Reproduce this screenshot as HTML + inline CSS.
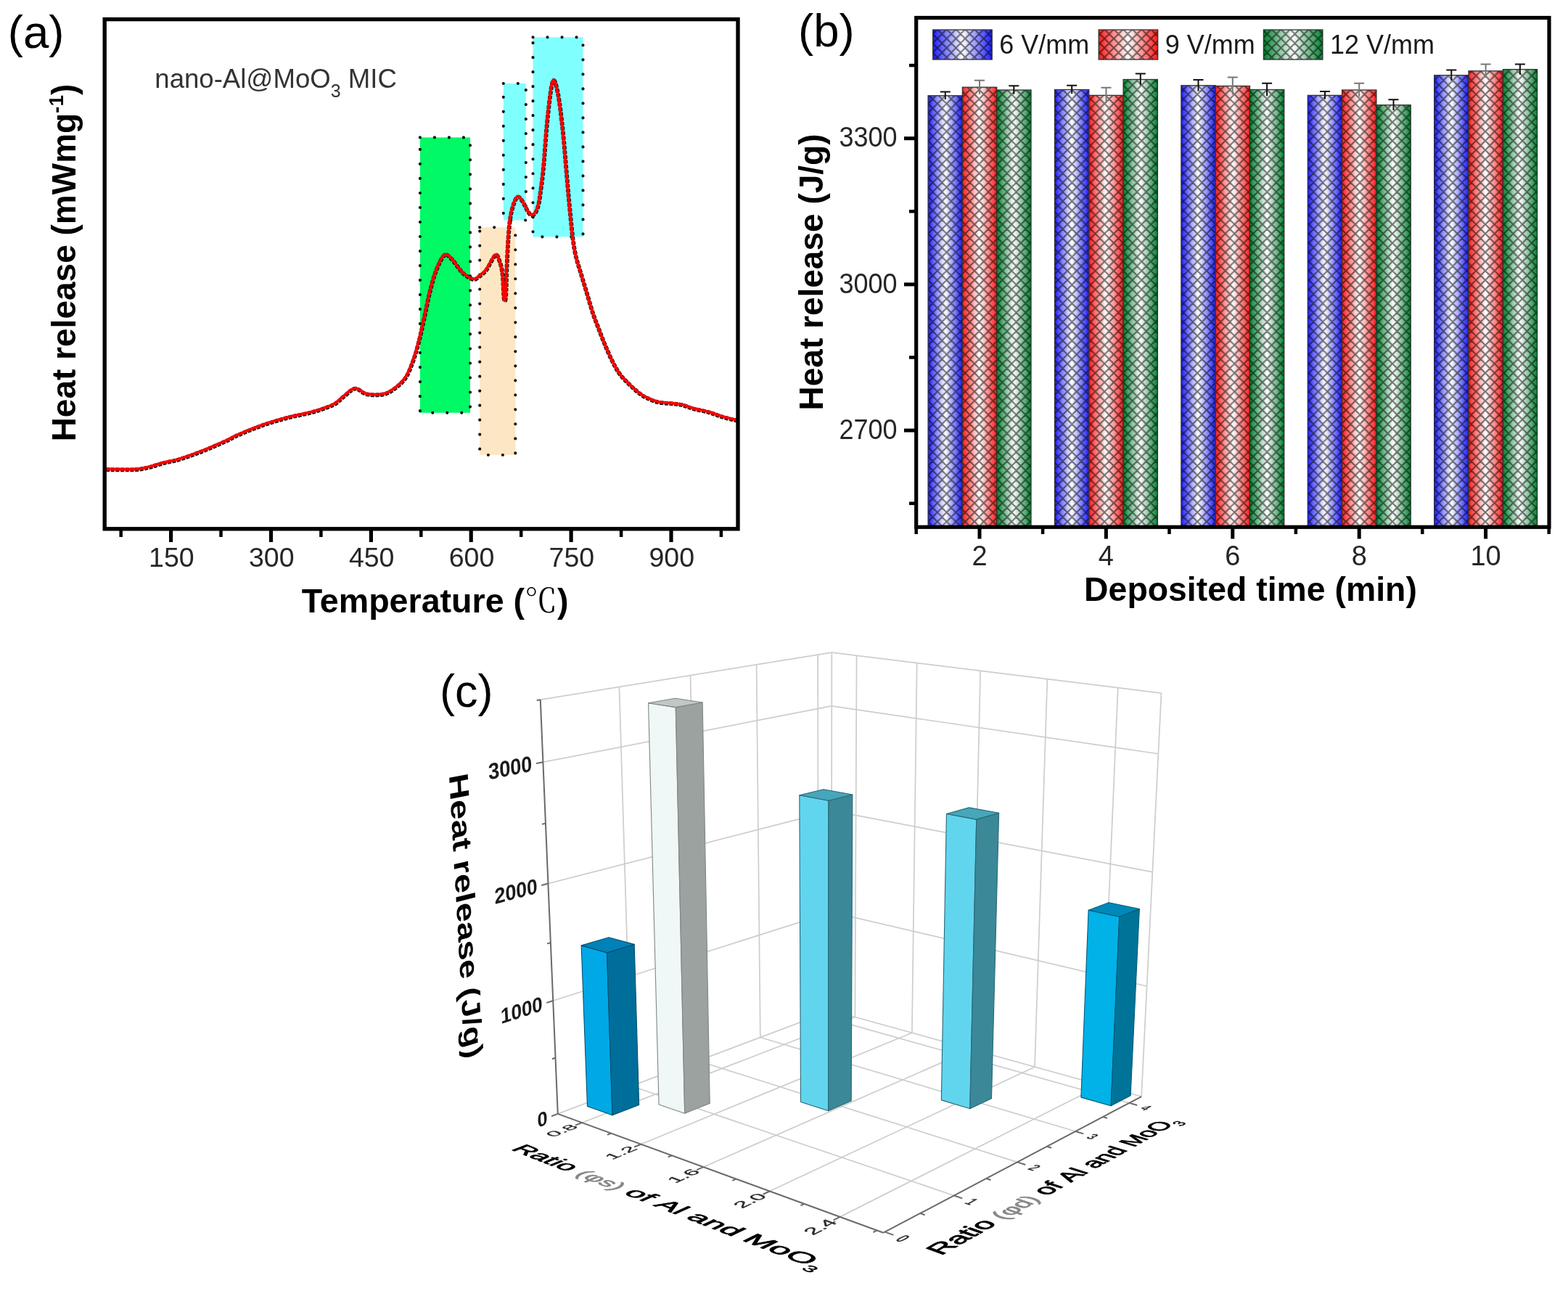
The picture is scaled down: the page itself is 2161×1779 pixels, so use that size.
<!DOCTYPE html>
<html><head><meta charset="utf-8"><title>Figure</title>
<style>html,body{margin:0;padding:0;background:#fff;}svg{display:block;}
text{font-family:"Liberation Sans", Arial, sans-serif;}</style></head>
<body><svg width="2161" height="1779" viewBox="0 0 2161 1779">
<rect width="2161" height="1779" fill="#fff"/>
<rect x="578.9" y="189.4" width="69.1" height="379.4" fill="#00F964"/>
<rect x="578.9" y="189.4" width="69.1" height="379.4" fill="none" stroke="#111" stroke-width="4.2" stroke-dasharray="0.01 20" stroke-linecap="round"/>
<rect x="661.2" y="313.3" width="49.1" height="313.7" fill="#FDE6C3"/>
<rect x="661.2" y="313.3" width="49.1" height="313.7" fill="none" stroke="#111" stroke-width="4.2" stroke-dasharray="0.01 20" stroke-linecap="round"/>
<rect x="693.8" y="115.0" width="31.0" height="188.5" fill="#80FFFF"/>
<rect x="693.8" y="115.0" width="31.0" height="188.5" fill="none" stroke="#111" stroke-width="4.2" stroke-dasharray="0.01 20" stroke-linecap="round"/>
<rect x="734.5" y="51.3" width="69.0" height="275.1" fill="#80FFFF"/>
<rect x="734.5" y="51.3" width="69.0" height="275.1" fill="none" stroke="#111" stroke-width="4.2" stroke-dasharray="0.01 20" stroke-linecap="round"/>
<path d="M146.0,646.5 C152.7,646.5 176.2,647.0 186.0,646.5 C195.8,646.0 198.4,644.9 205.0,643.4 C211.6,641.9 218.6,639.2 225.4,637.4 C232.2,635.6 237.3,635.4 245.8,632.8 C254.3,630.2 265.8,626.2 276.6,622.0 C287.4,617.8 302.2,611.3 310.7,607.5 C319.2,603.7 319.3,602.7 327.8,599.0 C336.3,595.3 350.5,589.4 361.9,585.4 C373.3,581.4 384.6,578.1 396.0,575.1 C407.4,572.1 419.7,570.4 430.2,567.4 C440.7,564.4 452.1,560.7 459.2,557.2 C466.3,553.7 467.8,550.2 472.8,546.5 C477.8,542.8 483.5,535.6 489.0,535.0 C494.5,534.4 499.0,541.4 505.6,542.7 C512.2,544.0 522.1,544.0 528.4,542.7 C534.7,541.4 538.5,538.8 543.6,535.0 C548.7,531.2 554.6,526.2 558.8,519.9 C563.0,513.6 566.0,505.0 569.0,497.0 C572.0,489.0 574.1,481.4 576.6,471.7 C579.1,462.0 581.7,450.2 584.2,438.8 C586.7,427.4 589.1,414.3 591.8,403.3 C594.5,392.3 597.2,381.6 600.6,372.9 C604.0,364.2 608.4,354.1 612.0,351.3 C615.6,348.6 618.0,352.4 622.2,356.4 C626.4,360.4 632.4,370.7 637.4,375.4 C642.4,380.1 648.2,383.5 652.0,384.4 C655.8,385.2 657.0,382.6 660.0,380.5 C663.0,378.4 666.0,376.6 669.8,371.7 C673.5,366.8 679.4,353.1 682.5,351.1 C685.6,349.1 686.8,355.5 688.4,359.9 C690.0,364.3 691.3,369.1 692.3,377.5 C693.3,385.9 693.6,405.3 694.3,410.5 C695.0,415.7 696.1,415.9 696.7,408.8 C697.4,401.7 697.6,381.1 698.2,367.7 C698.8,354.3 699.4,340.0 700.2,328.6 C701.0,317.2 701.8,307.4 703.1,299.2 C704.4,291.0 706.3,284.3 708.0,279.6 C709.7,274.9 711.4,271.3 713.4,270.8 C715.4,270.3 717.3,273.3 719.7,276.7 C722.1,280.1 725.4,288.1 727.6,291.3 C729.8,294.6 731.2,296.2 733.0,296.2 C734.8,296.2 736.9,294.1 738.4,291.3 C739.9,288.5 741.2,284.8 742.3,279.6 C743.4,274.4 744.1,268.1 745.2,260.0 C746.3,251.9 747.1,247.5 748.7,230.8 C750.3,214.1 752.4,179.8 754.6,159.9 C756.8,140.0 759.3,116.6 761.7,111.5 C764.1,106.4 766.4,117.2 768.8,129.2 C771.1,141.2 773.2,158.8 775.8,183.6 C778.3,208.4 781.5,251.6 784.1,278.0 C786.7,304.4 788.3,324.8 791.2,341.8 C794.1,358.8 798.5,369.4 801.5,380.0 C804.5,390.6 806.6,396.9 809.1,405.3 C811.6,413.8 814.2,423.1 816.7,430.7 C819.2,438.3 821.5,443.8 824.3,451.0 C827.0,458.2 830.0,466.2 833.2,473.8 C836.4,481.4 840.0,489.9 843.4,496.6 C846.8,503.4 849.7,509.0 853.5,514.3 C857.3,519.6 862.0,524.1 866.2,528.3 C870.4,532.5 874.8,536.5 878.8,539.7 C882.8,542.9 885.6,545.0 890.2,547.3 C894.9,549.6 901.0,552.2 906.7,553.6 C912.4,555.0 919.0,554.9 924.5,555.5 C930.0,556.1 934.6,556.2 939.7,557.4 C944.8,558.6 948.8,560.8 954.9,562.5 C961.0,564.2 969.6,565.6 976.4,567.5 C983.1,569.4 989.0,572.0 995.4,573.9 C1001.8,575.8 1011.7,578.1 1015.0,579.0" transform="translate(0.3,0.7)" fill="none" stroke="#1a1a1a" stroke-width="5.8" stroke-linejoin="round" stroke-dasharray="5 1.6"/>
<path d="M146.0,646.5 C152.7,646.5 176.2,647.0 186.0,646.5 C195.8,646.0 198.4,644.9 205.0,643.4 C211.6,641.9 218.6,639.2 225.4,637.4 C232.2,635.6 237.3,635.4 245.8,632.8 C254.3,630.2 265.8,626.2 276.6,622.0 C287.4,617.8 302.2,611.3 310.7,607.5 C319.2,603.7 319.3,602.7 327.8,599.0 C336.3,595.3 350.5,589.4 361.9,585.4 C373.3,581.4 384.6,578.1 396.0,575.1 C407.4,572.1 419.7,570.4 430.2,567.4 C440.7,564.4 452.1,560.7 459.2,557.2 C466.3,553.7 467.8,550.2 472.8,546.5 C477.8,542.8 483.5,535.6 489.0,535.0 C494.5,534.4 499.0,541.4 505.6,542.7 C512.2,544.0 522.1,544.0 528.4,542.7 C534.7,541.4 538.5,538.8 543.6,535.0 C548.7,531.2 554.6,526.2 558.8,519.9 C563.0,513.6 566.0,505.0 569.0,497.0 C572.0,489.0 574.1,481.4 576.6,471.7 C579.1,462.0 581.7,450.2 584.2,438.8 C586.7,427.4 589.1,414.3 591.8,403.3 C594.5,392.3 597.2,381.6 600.6,372.9 C604.0,364.2 608.4,354.1 612.0,351.3 C615.6,348.6 618.0,352.4 622.2,356.4 C626.4,360.4 632.4,370.7 637.4,375.4 C642.4,380.1 648.2,383.5 652.0,384.4 C655.8,385.2 657.0,382.6 660.0,380.5 C663.0,378.4 666.0,376.6 669.8,371.7 C673.5,366.8 679.4,353.1 682.5,351.1 C685.6,349.1 686.8,355.5 688.4,359.9 C690.0,364.3 691.3,369.1 692.3,377.5 C693.3,385.9 693.6,405.3 694.3,410.5 C695.0,415.7 696.1,415.9 696.7,408.8 C697.4,401.7 697.6,381.1 698.2,367.7 C698.8,354.3 699.4,340.0 700.2,328.6 C701.0,317.2 701.8,307.4 703.1,299.2 C704.4,291.0 706.3,284.3 708.0,279.6 C709.7,274.9 711.4,271.3 713.4,270.8 C715.4,270.3 717.3,273.3 719.7,276.7 C722.1,280.1 725.4,288.1 727.6,291.3 C729.8,294.6 731.2,296.2 733.0,296.2 C734.8,296.2 736.9,294.1 738.4,291.3 C739.9,288.5 741.2,284.8 742.3,279.6 C743.4,274.4 744.1,268.1 745.2,260.0 C746.3,251.9 747.1,247.5 748.7,230.8 C750.3,214.1 752.4,179.8 754.6,159.9 C756.8,140.0 759.3,116.6 761.7,111.5 C764.1,106.4 766.4,117.2 768.8,129.2 C771.1,141.2 773.2,158.8 775.8,183.6 C778.3,208.4 781.5,251.6 784.1,278.0 C786.7,304.4 788.3,324.8 791.2,341.8 C794.1,358.8 798.5,369.4 801.5,380.0 C804.5,390.6 806.6,396.9 809.1,405.3 C811.6,413.8 814.2,423.1 816.7,430.7 C819.2,438.3 821.5,443.8 824.3,451.0 C827.0,458.2 830.0,466.2 833.2,473.8 C836.4,481.4 840.0,489.9 843.4,496.6 C846.8,503.4 849.7,509.0 853.5,514.3 C857.3,519.6 862.0,524.1 866.2,528.3 C870.4,532.5 874.8,536.5 878.8,539.7 C882.8,542.9 885.6,545.0 890.2,547.3 C894.9,549.6 901.0,552.2 906.7,553.6 C912.4,555.0 919.0,554.9 924.5,555.5 C930.0,556.1 934.6,556.2 939.7,557.4 C944.8,558.6 948.8,560.8 954.9,562.5 C961.0,564.2 969.6,565.6 976.4,567.5 C983.1,569.4 989.0,572.0 995.4,573.9 C1001.8,575.8 1011.7,578.1 1015.0,579.0" fill="none" stroke="#FF0000" stroke-width="4.0" stroke-linejoin="round"/>
<rect x="144.2" y="26.6" width="872.8" height="702.2" fill="none" stroke="#000" stroke-width="5.4"/>
<line x1="235.6" y1="730" x2="235.6" y2="747" stroke="#000" stroke-width="5.2"/>
<text x="236.4" y="781" font-size="37.5" text-anchor="middle" fill="#262626">150</text>
<line x1="373.5" y1="730" x2="373.5" y2="747" stroke="#000" stroke-width="5.2"/>
<text x="374.3" y="781" font-size="37.5" text-anchor="middle" fill="#262626">300</text>
<line x1="511.4" y1="730" x2="511.4" y2="747" stroke="#000" stroke-width="5.2"/>
<text x="512.2" y="781" font-size="37.5" text-anchor="middle" fill="#262626">450</text>
<line x1="649.2" y1="730" x2="649.2" y2="747" stroke="#000" stroke-width="5.2"/>
<text x="650.0" y="781" font-size="37.5" text-anchor="middle" fill="#262626">600</text>
<line x1="787.1" y1="730" x2="787.1" y2="747" stroke="#000" stroke-width="5.2"/>
<text x="787.9" y="781" font-size="37.5" text-anchor="middle" fill="#262626">750</text>
<line x1="925.0" y1="730" x2="925.0" y2="747" stroke="#000" stroke-width="5.2"/>
<text x="925.8" y="781" font-size="37.5" text-anchor="middle" fill="#262626">900</text>
<line x1="166.7" y1="730" x2="166.7" y2="740" stroke="#000" stroke-width="4.5"/>
<line x1="304.5" y1="730" x2="304.5" y2="740" stroke="#000" stroke-width="4.5"/>
<line x1="442.4" y1="730" x2="442.4" y2="740" stroke="#000" stroke-width="4.5"/>
<line x1="580.3" y1="730" x2="580.3" y2="740" stroke="#000" stroke-width="4.5"/>
<line x1="718.2" y1="730" x2="718.2" y2="740" stroke="#000" stroke-width="4.5"/>
<line x1="856.1" y1="730" x2="856.1" y2="740" stroke="#000" stroke-width="4.5"/>
<line x1="993.9" y1="730" x2="993.9" y2="740" stroke="#000" stroke-width="4.5"/>
<text x="10.8" y="65.8" font-size="63.5" fill="#000">(a)</text>
<text x="213.3" y="121" font-size="36.6" fill="#333">nano-Al@MoO<tspan font-size="25" dy="13">3</tspan><tspan dy="-13" font-size="36.6"> MIC</tspan></text>
<text x="415.8" y="843.5" font-size="46.6" font-weight="bold" fill="#000">Temperature (<tspan font-family="'Liberation Serif', 'Noto Serif CJK SC', serif" font-weight="normal" font-size="45">℃</tspan>)</text>
<text transform="translate(104,362) rotate(-90)" font-size="46" font-weight="bold" text-anchor="middle" fill="#000">Heat release (mWmg<tspan font-size="28" dy="-17">-1</tspan><tspan dy="17">)</tspan></text>
<defs>
<linearGradient id="gB" x1="0" x2="1" y1="0" y2="0"><stop offset="0" stop-color="#1a1aff"/><stop offset="0.5" stop-color="#ffffff"/><stop offset="1" stop-color="#1a1aff"/></linearGradient>
<linearGradient id="gR" x1="0" x2="1" y1="0" y2="0"><stop offset="0" stop-color="#ff1a1a"/><stop offset="0.5" stop-color="#ffffff"/><stop offset="1" stop-color="#ff1a1a"/></linearGradient>
<linearGradient id="gG" x1="0" x2="1" y1="0" y2="0"><stop offset="0" stop-color="#00802e"/><stop offset="0.5" stop-color="#ffffff"/><stop offset="1" stop-color="#00802e"/></linearGradient>
<pattern id="hatch" patternUnits="userSpaceOnUse" width="12.8" height="12.8" x="1279" y="2">
<path d="M-3,3 l6,-6 M0,12.8 l12.8,-12.8 M9.8,15.8 l6,-6 M-3,9.8 l6,6 M0,0 l12.8,12.8 M9.8,-3 l6,6" stroke="#000" stroke-width="2.2" stroke-opacity="0.52"/>
</pattern>
</defs>
<rect x="1279.1" y="131.8" width="47.3" height="592.7" fill="url(#gB)"/>
<rect x="1279.1" y="131.8" width="47.3" height="592.7" fill="url(#hatch)" stroke="#333" stroke-width="1.3"/>
<rect x="1326.4" y="120.2" width="47.3" height="604.3" fill="url(#gR)"/>
<rect x="1326.4" y="120.2" width="47.3" height="604.3" fill="url(#hatch)" stroke="#333" stroke-width="1.3"/>
<rect x="1373.7" y="124.0" width="47.3" height="600.5" fill="url(#gG)"/>
<rect x="1373.7" y="124.0" width="47.3" height="600.5" fill="url(#hatch)" stroke="#333" stroke-width="1.3"/>
<rect x="1453.5" y="123.5" width="47.3" height="601.0" fill="url(#gB)"/>
<rect x="1453.5" y="123.5" width="47.3" height="601.0" fill="url(#hatch)" stroke="#333" stroke-width="1.3"/>
<rect x="1500.8" y="131.4" width="47.3" height="593.1" fill="url(#gR)"/>
<rect x="1500.8" y="131.4" width="47.3" height="593.1" fill="url(#hatch)" stroke="#333" stroke-width="1.3"/>
<rect x="1548.1" y="109.5" width="47.3" height="615.0" fill="url(#gG)"/>
<rect x="1548.1" y="109.5" width="47.3" height="615.0" fill="url(#hatch)" stroke="#333" stroke-width="1.3"/>
<rect x="1627.9" y="117.8" width="47.3" height="606.7" fill="url(#gB)"/>
<rect x="1627.9" y="117.8" width="47.3" height="606.7" fill="url(#hatch)" stroke="#333" stroke-width="1.3"/>
<rect x="1675.2" y="118.5" width="47.3" height="606.0" fill="url(#gR)"/>
<rect x="1675.2" y="118.5" width="47.3" height="606.0" fill="url(#hatch)" stroke="#333" stroke-width="1.3"/>
<rect x="1722.5" y="123.5" width="47.3" height="601.0" fill="url(#gG)"/>
<rect x="1722.5" y="123.5" width="47.3" height="601.0" fill="url(#hatch)" stroke="#333" stroke-width="1.3"/>
<rect x="1802.3" y="131.4" width="47.3" height="593.1" fill="url(#gB)"/>
<rect x="1802.3" y="131.4" width="47.3" height="593.1" fill="url(#hatch)" stroke="#333" stroke-width="1.3"/>
<rect x="1849.6" y="124.0" width="47.3" height="600.5" fill="url(#gR)"/>
<rect x="1849.6" y="124.0" width="47.3" height="600.5" fill="url(#hatch)" stroke="#333" stroke-width="1.3"/>
<rect x="1896.9" y="144.7" width="47.3" height="579.8" fill="url(#gG)"/>
<rect x="1896.9" y="144.7" width="47.3" height="579.8" fill="url(#hatch)" stroke="#333" stroke-width="1.3"/>
<rect x="1976.7" y="103.7" width="47.3" height="620.8" fill="url(#gB)"/>
<rect x="1976.7" y="103.7" width="47.3" height="620.8" fill="url(#hatch)" stroke="#333" stroke-width="1.3"/>
<rect x="2024.0" y="97.8" width="47.3" height="626.7" fill="url(#gR)"/>
<rect x="2024.0" y="97.8" width="47.3" height="626.7" fill="url(#hatch)" stroke="#333" stroke-width="1.3"/>
<rect x="2071.3" y="95.6" width="47.3" height="628.9" fill="url(#gG)"/>
<rect x="2071.3" y="95.6" width="47.3" height="628.9" fill="url(#hatch)" stroke="#333" stroke-width="1.3"/>
<path d="M1295.8,126.5 h14 M1302.8,126.5 V137.1" stroke="#111" stroke-width="2" fill="none"/>
<path d="M1343.0,110.7 h14 M1350.0,110.7 V129.7" stroke="#777" stroke-width="2" fill="none"/>
<path d="M1390.3,118.2 h14 M1397.3,118.2 V129.8" stroke="#111" stroke-width="2" fill="none"/>
<path d="M1470.2,117.8 h14 M1477.2,117.8 V129.2" stroke="#111" stroke-width="2" fill="none"/>
<path d="M1517.5,120.7 h14 M1524.5,120.7 V142.1" stroke="#777" stroke-width="2" fill="none"/>
<path d="M1564.8,101.6 h14 M1571.8,101.6 V117.4" stroke="#111" stroke-width="2" fill="none"/>
<path d="M1644.5,109.9 h14 M1651.5,109.9 V125.7" stroke="#111" stroke-width="2" fill="none"/>
<path d="M1691.8,106.6 h14 M1698.8,106.6 V130.4" stroke="#777" stroke-width="2" fill="none"/>
<path d="M1739.1,114.8 h14 M1746.1,114.8 V132.2" stroke="#111" stroke-width="2" fill="none"/>
<path d="M1819.0,126.1 h14 M1826.0,126.1 V136.7" stroke="#111" stroke-width="2" fill="none"/>
<path d="M1866.2,114.8 h14 M1873.2,114.8 V133.2" stroke="#777" stroke-width="2" fill="none"/>
<path d="M1913.5,137.3 h14 M1920.5,137.3 V152.1" stroke="#111" stroke-width="2" fill="none"/>
<path d="M1993.3,96.5 h14 M2000.3,96.5 V110.9" stroke="#111" stroke-width="2" fill="none"/>
<path d="M2040.6,88.4 h14 M2047.6,88.4 V107.2" stroke="#777" stroke-width="2" fill="none"/>
<path d="M2087.9,88.4 h14 M2094.9,88.4 V102.8" stroke="#111" stroke-width="2" fill="none"/>
<rect x="1262.7" y="24.5" width="872.3" height="701.8" fill="none" stroke="#000" stroke-width="5.2"/>
<line x1="1246" y1="593.1" x2="1262" y2="593.1" stroke="#000" stroke-width="5"/>
<text transform="translate(1236.5,604.7) scale(0.935,1)" font-size="38.5" text-anchor="end" fill="#262626">2700</text>
<line x1="1246" y1="391.9" x2="1262" y2="391.9" stroke="#000" stroke-width="5"/>
<text transform="translate(1236.5,403.5) scale(0.935,1)" font-size="38.5" text-anchor="end" fill="#262626">3000</text>
<line x1="1246" y1="190.7" x2="1262" y2="190.7" stroke="#000" stroke-width="5"/>
<text transform="translate(1236.5,202.3) scale(0.935,1)" font-size="38.5" text-anchor="end" fill="#262626">3300</text>
<line x1="1253" y1="693.7" x2="1262" y2="693.7" stroke="#000" stroke-width="4.5"/>
<line x1="1253" y1="492.5" x2="1262" y2="492.5" stroke="#000" stroke-width="4.5"/>
<line x1="1253" y1="291.3" x2="1262" y2="291.3" stroke="#000" stroke-width="4.5"/>
<line x1="1253" y1="90.1" x2="1262" y2="90.1" stroke="#000" stroke-width="4.5"/>
<line x1="1350.0" y1="726" x2="1350.0" y2="742.5" stroke="#000" stroke-width="5"/>
<text x="1350.0" y="778.5" font-size="38" text-anchor="middle" fill="#262626">2</text>
<line x1="1524.4" y1="726" x2="1524.4" y2="742.5" stroke="#000" stroke-width="5"/>
<text x="1524.4" y="778.5" font-size="38" text-anchor="middle" fill="#262626">4</text>
<line x1="1698.8" y1="726" x2="1698.8" y2="742.5" stroke="#000" stroke-width="5"/>
<text x="1698.8" y="778.5" font-size="38" text-anchor="middle" fill="#262626">6</text>
<line x1="1873.2" y1="726" x2="1873.2" y2="742.5" stroke="#000" stroke-width="5"/>
<text x="1873.2" y="778.5" font-size="38" text-anchor="middle" fill="#262626">8</text>
<line x1="2047.6" y1="726" x2="2047.6" y2="742.5" stroke="#000" stroke-width="5"/>
<text x="2047.6" y="778.5" font-size="38" text-anchor="middle" fill="#262626">10</text>
<line x1="1262.7" y1="726" x2="1262.7" y2="736" stroke="#000" stroke-width="4.5"/>
<line x1="1437.1" y1="726" x2="1437.1" y2="736" stroke="#000" stroke-width="4.5"/>
<line x1="1611.5" y1="726" x2="1611.5" y2="736" stroke="#000" stroke-width="4.5"/>
<line x1="1785.9" y1="726" x2="1785.9" y2="736" stroke="#000" stroke-width="4.5"/>
<line x1="1960.3" y1="726" x2="1960.3" y2="736" stroke="#000" stroke-width="4.5"/>
<line x1="2134.7" y1="726" x2="2134.7" y2="736" stroke="#000" stroke-width="4.5"/>
<rect x="1285.7" y="41" width="81.5" height="41" fill="url(#gB)"/>
<rect x="1285.7" y="41" width="81.5" height="41" fill="url(#hatch)" stroke="#333" stroke-width="1.3"/>
<text x="1377.2" y="73.5" font-size="36" fill="#1a1a1a">6 V/mm</text>
<rect x="1514.2" y="41" width="81.5" height="41" fill="url(#gR)"/>
<rect x="1514.2" y="41" width="81.5" height="41" fill="url(#hatch)" stroke="#333" stroke-width="1.3"/>
<text x="1605.7" y="73.5" font-size="36" fill="#1a1a1a">9 V/mm</text>
<rect x="1741.4" y="41" width="81.5" height="41" fill="url(#gG)"/>
<rect x="1741.4" y="41" width="81.5" height="41" fill="url(#hatch)" stroke="#333" stroke-width="1.3"/>
<text x="1832.9" y="73.5" font-size="36" fill="#1a1a1a">12 V/mm</text>
<text x="1100" y="63.8" font-size="63.5" fill="#000">(b)</text>
<text x="1723.5" y="827.5" font-size="46.4" font-weight="bold" text-anchor="middle" fill="#000">Deposited time (min)</text>
<text transform="translate(1133.6,375) rotate(-90)" font-size="46" font-weight="bold" text-anchor="middle" fill="#000">Heat release (J/g)</text>
<line x1="870.16" y1="1496.57" x2="853.44" y2="946.55" stroke="#cdcdcd" stroke-width="1.7" />
<line x1="962.18" y1="1461.83" x2="951.61" y2="930.66" stroke="#cdcdcd" stroke-width="1.7" />
<line x1="1047.82" y1="1429.50" x2="1042.58" y2="915.93" stroke="#cdcdcd" stroke-width="1.7" />
<line x1="1127.73" y1="1399.34" x2="1127.12" y2="902.24" stroke="#cdcdcd" stroke-width="1.7" />
<line x1="762.20" y1="1379.01" x2="1146.04" y2="1256.86" stroke="#cdcdcd" stroke-width="1.7" />
<line x1="755.42" y1="1217.55" x2="1146.15" y2="1117.07" stroke="#cdcdcd" stroke-width="1.7" />
<line x1="748.38" y1="1050.17" x2="1146.26" y2="972.91" stroke="#cdcdcd" stroke-width="1.7" />
<line x1="744.76" y1="964.15" x2="1146.32" y2="899.13" stroke="#cdcdcd" stroke-width="1.7" />
<line x1="1145.93" y1="1392.47" x2="1146.32" y2="899.13" stroke="#cdcdcd" stroke-width="1.7" />
<line x1="1178.37" y1="1401.47" x2="1180.58" y2="903.35" stroke="#cdcdcd" stroke-width="1.7" />
<line x1="1256.91" y1="1423.27" x2="1263.67" y2="913.58" stroke="#cdcdcd" stroke-width="1.7" />
<line x1="1339.37" y1="1446.15" x2="1351.15" y2="924.34" stroke="#cdcdcd" stroke-width="1.7" />
<line x1="1426.04" y1="1470.20" x2="1443.37" y2="935.70" stroke="#cdcdcd" stroke-width="1.7" />
<line x1="1517.27" y1="1495.52" x2="1540.73" y2="947.68" stroke="#cdcdcd" stroke-width="1.7" />
<line x1="1573.13" y1="1511.02" x2="1600.50" y2="955.04" stroke="#cdcdcd" stroke-width="1.7" />
<line x1="1146.04" y1="1256.86" x2="1580.61" y2="1359.01" stroke="#cdcdcd" stroke-width="1.7" />
<line x1="1146.15" y1="1117.07" x2="1588.36" y2="1201.67" stroke="#cdcdcd" stroke-width="1.7" />
<line x1="1146.26" y1="972.91" x2="1596.38" y2="1038.72" stroke="#cdcdcd" stroke-width="1.7" />
<line x1="1146.32" y1="899.13" x2="1600.50" y2="955.04" stroke="#cdcdcd" stroke-width="1.7" />
<line x1="802.14" y1="1547.04" x2="1178.37" y2="1401.47" stroke="#cdcdcd" stroke-width="1.7" />
<line x1="883.43" y1="1576.72" x2="1256.91" y2="1423.27" stroke="#cdcdcd" stroke-width="1.7" />
<line x1="969.49" y1="1608.15" x2="1339.37" y2="1446.15" stroke="#cdcdcd" stroke-width="1.7" />
<line x1="1060.75" y1="1641.48" x2="1426.04" y2="1470.20" stroke="#cdcdcd" stroke-width="1.7" />
<line x1="1157.71" y1="1676.88" x2="1517.27" y2="1495.52" stroke="#cdcdcd" stroke-width="1.7" />
<line x1="870.16" y1="1496.57" x2="1314.70" y2="1647.44" stroke="#cdcdcd" stroke-width="1.7" />
<line x1="962.18" y1="1461.83" x2="1401.87" y2="1601.42" stroke="#cdcdcd" stroke-width="1.7" />
<line x1="1047.82" y1="1429.50" x2="1482.15" y2="1559.04" stroke="#cdcdcd" stroke-width="1.7" />
<line x1="1127.73" y1="1399.34" x2="1556.33" y2="1519.88" stroke="#cdcdcd" stroke-width="1.7" />
<line x1="768.76" y1="1534.85" x2="1145.93" y2="1392.47" stroke="#cdcdcd" stroke-width="1.7" />
<line x1="1145.93" y1="1392.47" x2="1573.13" y2="1511.02" stroke="#cdcdcd" stroke-width="1.7" />
<line x1="768.76" y1="1534.85" x2="744.76" y2="964.15" stroke="#6a6a6a" stroke-width="2.0" />
<line x1="768.76" y1="1534.85" x2="1217.53" y2="1698.73" stroke="#6a6a6a" stroke-width="2.0" />
<line x1="1217.53" y1="1698.73" x2="1573.13" y2="1511.02" stroke="#6a6a6a" stroke-width="2.0" />
<line x1="768.76" y1="1534.85" x2="759.96" y2="1538.17" stroke="#6a6a6a" stroke-width="2.0" />
<line x1="765.51" y1="1457.61" x2="760.81" y2="1459.25" stroke="#6a6a6a" stroke-width="2.0" />
<line x1="762.20" y1="1379.01" x2="753.23" y2="1381.87" stroke="#6a6a6a" stroke-width="2.0" />
<line x1="758.84" y1="1299.00" x2="754.05" y2="1300.38" stroke="#6a6a6a" stroke-width="2.0" />
<line x1="755.42" y1="1217.55" x2="746.25" y2="1219.91" stroke="#6a6a6a" stroke-width="2.0" />
<line x1="751.93" y1="1134.62" x2="747.04" y2="1135.73" stroke="#6a6a6a" stroke-width="2.0" />
<line x1="748.38" y1="1050.17" x2="739.02" y2="1051.98" stroke="#6a6a6a" stroke-width="2.0" />
<line x1="744.76" y1="964.15" x2="739.76" y2="964.96" stroke="#6a6a6a" stroke-width="2.0" />
<line x1="802.14" y1="1547.04" x2="792.83" y2="1550.64" stroke="#6a6a6a" stroke-width="2.0" />
<line x1="842.21" y1="1561.67" x2="837.06" y2="1563.73" stroke="#6a6a6a" stroke-width="2.0" />
<line x1="883.43" y1="1576.72" x2="874.15" y2="1580.54" stroke="#6a6a6a" stroke-width="2.0" />
<line x1="925.84" y1="1592.21" x2="920.70" y2="1594.39" stroke="#6a6a6a" stroke-width="2.0" />
<line x1="969.49" y1="1608.15" x2="960.26" y2="1612.19" stroke="#6a6a6a" stroke-width="2.0" />
<line x1="1014.44" y1="1624.57" x2="1009.34" y2="1626.88" stroke="#6a6a6a" stroke-width="2.0" />
<line x1="1060.75" y1="1641.48" x2="1051.60" y2="1645.77" stroke="#6a6a6a" stroke-width="2.0" />
<line x1="1108.49" y1="1658.91" x2="1103.43" y2="1661.36" stroke="#6a6a6a" stroke-width="2.0" />
<line x1="1157.71" y1="1676.88" x2="1148.65" y2="1681.45" stroke="#6a6a6a" stroke-width="2.0" />
<line x1="1208.49" y1="1695.42" x2="1203.50" y2="1698.04" stroke="#6a6a6a" stroke-width="2.0" />
<line x1="1219.71" y1="1697.58" x2="1231.42" y2="1701.84" stroke="#6a6a6a" stroke-width="2.0" />
<line x1="1268.25" y1="1671.96" x2="1274.69" y2="1674.22" stroke="#6a6a6a" stroke-width="2.0" />
<line x1="1314.70" y1="1647.44" x2="1326.23" y2="1651.35" stroke="#6a6a6a" stroke-width="2.0" />
<line x1="1359.20" y1="1623.94" x2="1365.54" y2="1626.03" stroke="#6a6a6a" stroke-width="2.0" />
<line x1="1401.87" y1="1601.42" x2="1413.21" y2="1605.02" stroke="#6a6a6a" stroke-width="2.0" />
<line x1="1442.82" y1="1579.80" x2="1449.06" y2="1581.72" stroke="#6a6a6a" stroke-width="2.0" />
<line x1="1482.15" y1="1559.04" x2="1493.30" y2="1562.36" stroke="#6a6a6a" stroke-width="2.0" />
<line x1="1519.96" y1="1539.08" x2="1526.09" y2="1540.86" stroke="#6a6a6a" stroke-width="2.0" />
<line x1="1556.33" y1="1519.88" x2="1567.28" y2="1522.96" stroke="#6a6a6a" stroke-width="2.0" />
<polygon points="809.47,1524.56 843.97,1536.85 836.46,1312.76 801.19,1302.90" fill="#00A8E6" stroke="#005070" stroke-width="1.1" stroke-linejoin="round"/>
<polygon points="843.97,1536.85 880.67,1522.56 874.19,1301.37 836.46,1312.76" fill="#006E9A" stroke="#005070" stroke-width="1.1" stroke-linejoin="round"/>
<polygon points="801.19,1302.90 836.46,1312.76 874.19,1301.37 838.97,1291.79" fill="#0082B8" stroke="#005070" stroke-width="1.1" stroke-linejoin="round"/>
<polygon points="908.05,1522.09 943.67,1534.33 931.27,974.66 893.56,968.72" fill="#EFF8F6" stroke="#7E8686" stroke-width="1.1" stroke-linejoin="round"/>
<polygon points="943.67,1534.33 978.22,1520.38 968.16,968.08 931.27,974.66" fill="#9CA2A0" stroke="#7E8686" stroke-width="1.1" stroke-linejoin="round"/>
<polygon points="893.56,968.72 931.27,974.66 968.16,968.08 930.54,962.32" fill="#C2C6C6" stroke="#7E8686" stroke-width="1.1" stroke-linejoin="round"/>
<polygon points="1103.51,1518.48 1141.70,1530.74 1141.85,1103.23 1101.82,1095.73" fill="#62D5EE" stroke="#2A6878" stroke-width="1.1" stroke-linejoin="round"/>
<polygon points="1141.70,1530.74 1173.20,1516.98 1174.85,1094.95 1141.85,1103.23" fill="#3A8898" stroke="#2A6878" stroke-width="1.1" stroke-linejoin="round"/>
<polygon points="1101.82,1095.73 1141.85,1103.23 1174.85,1094.95 1134.98,1087.67" fill="#46A6BA" stroke="#2A6878" stroke-width="1.1" stroke-linejoin="round"/>
<polygon points="1297.34,1515.88 1336.78,1527.78 1345.74,1129.10 1304.43,1121.52" fill="#62D5EE" stroke="#2A6878" stroke-width="1.1" stroke-linejoin="round"/>
<polygon points="1336.78,1527.78 1366.49,1513.63 1376.64,1120.22 1345.74,1129.10" fill="#3A8898" stroke="#2A6878" stroke-width="1.1" stroke-linejoin="round"/>
<polygon points="1304.43,1121.52 1345.74,1129.10 1376.64,1120.22 1335.56,1112.85" fill="#46A6BA" stroke="#2A6878" stroke-width="1.1" stroke-linejoin="round"/>
<polygon points="1489.88,1512.11 1531.12,1523.83 1542.72,1263.19 1500.15,1254.21" fill="#00B2E8" stroke="#005878" stroke-width="1.1" stroke-linejoin="round"/>
<polygon points="1531.12,1523.83 1558.12,1509.71 1570.34,1252.47 1542.72,1263.19" fill="#007498" stroke="#005878" stroke-width="1.1" stroke-linejoin="round"/>
<polygon points="1500.15,1254.21 1542.72,1263.19 1570.34,1252.47 1528.06,1243.74" fill="#0088B8" stroke="#005878" stroke-width="1.1" stroke-linejoin="round"/>
<text x="606" y="973.5" font-size="63" fill="#000">(c)</text>
<g fill="#1a1a1a"><text transform="matrix(0.2510,-0.0956,0.0125,0.2753,740.93,1554.13)" font-size="100" font-weight="bold">0</text></g>
<g fill="#1a1a1a"><text transform="matrix(0.2645,-0.0850,0.0145,0.2894,690.39,1411.08)" font-size="100" font-weight="bold">1</text><text transform="matrix(0.2616,-0.0841,0.0140,0.2880,705.02,1406.38)" font-size="100" font-weight="bold">0</text><text transform="matrix(0.2589,-0.0833,0.0135,0.2866,719.49,1401.72)" font-size="100" font-weight="bold">0</text><text transform="matrix(0.2561,-0.0824,0.0129,0.2853,733.82,1397.12)" font-size="100" font-weight="bold">0</text></g>
<g fill="#1a1a1a"><text transform="matrix(0.2702,-0.0704,0.0151,0.3002,682.09,1245.94)" font-size="100" font-weight="bold">2</text><text transform="matrix(0.2672,-0.0696,0.0145,0.2987,697.04,1242.05)" font-size="100" font-weight="bold">0</text><text transform="matrix(0.2644,-0.0689,0.0140,0.2972,711.82,1238.20)" font-size="100" font-weight="bold">0</text><text transform="matrix(0.2615,-0.0682,0.0134,0.2958,726.44,1234.38)" font-size="100" font-weight="bold">0</text></g>
<g fill="#1a1a1a"><text transform="matrix(0.2761,-0.0546,0.0157,0.3117,673.48,1074.58)" font-size="100" font-weight="bold">3</text><text transform="matrix(0.2731,-0.0540,0.0151,0.3100,688.75,1071.56)" font-size="100" font-weight="bold">0</text><text transform="matrix(0.2701,-0.0534,0.0145,0.3084,703.86,1068.57)" font-size="100" font-weight="bold">0</text><text transform="matrix(0.2671,-0.0528,0.0139,0.3068,718.80,1065.62)" font-size="100" font-weight="bold">0</text></g>
<g fill="#000"><text transform="matrix(0.0277,0.4946,-0.3708,0.0711,618.93,1068.48)" font-size="100" font-weight="bold">H</text><text transform="matrix(0.0275,0.4908,-0.3691,0.0755,620.92,1104.06)" font-size="100" font-weight="bold">e</text><text transform="matrix(0.0274,0.4879,-0.3678,0.0788,622.45,1131.28)" font-size="100" font-weight="bold">a</text><text transform="matrix(0.0272,0.4851,-0.3665,0.0821,623.97,1158.33)" font-size="100" font-weight="bold">t</text><text transform="matrix(0.0270,0.4819,-0.3651,0.0857,625.62,1187.87)" font-size="100" font-weight="bold">r</text><text transform="matrix(0.0269,0.4800,-0.3642,0.0879,626.67,1206.58)" font-size="100" font-weight="bold">e</text><text transform="matrix(0.0268,0.4772,-0.3630,0.0911,628.17,1233.20)" font-size="100" font-weight="bold">l</text><text transform="matrix(0.0267,0.4758,-0.3623,0.0927,628.91,1246.44)" font-size="100" font-weight="bold">e</text><text transform="matrix(0.0265,0.4730,-0.3611,0.0958,630.39,1272.82)" font-size="100" font-weight="bold">a</text><text transform="matrix(0.0264,0.4703,-0.3599,0.0989,631.86,1299.05)" font-size="100" font-weight="bold">s</text><text transform="matrix(0.0262,0.4676,-0.3586,0.1020,633.33,1325.13)" font-size="100" font-weight="bold">e</text><text transform="matrix(0.0260,0.4636,-0.3568,0.1065,635.50,1363.96)" font-size="100" font-weight="bold">(</text><text transform="matrix(0.0259,0.4620,-0.3561,0.1083,636.37,1379.37)" font-size="100" font-weight="bold">J</text><text transform="matrix(0.0258,0.4593,-0.3549,0.1112,637.80,1404.99)" font-size="100" font-weight="bold">/</text><text transform="matrix(0.0257,0.4580,-0.3543,0.1127,638.52,1417.74)" font-size="100" font-weight="bold">g</text><text transform="matrix(0.0255,0.4552,-0.3530,0.1158,640.08,1445.63)" font-size="100" font-weight="bold">)</text></g>
<g fill="#2a2a2a" stroke="#2a2a2a" stroke-width="2" stroke-linejoin="round"><text transform="matrix(0.2636,-0.1025,0.1714,0.0647,761.96,1567.26)" font-size="100">0</text><text transform="matrix(0.2607,-0.1013,0.1713,0.0640,776.54,1561.60)" font-size="100">.</text><text transform="matrix(0.2593,-0.1008,0.1713,0.0637,783.77,1558.79)" font-size="100">8</text></g>
<g fill="#2a2a2a" stroke="#2a2a2a" stroke-width="2" stroke-linejoin="round"><text transform="matrix(0.2630,-0.1086,0.1815,0.0685,843.74,1598.14)" font-size="100">1</text><text transform="matrix(0.2600,-0.1074,0.1814,0.0678,858.28,1592.14)" font-size="100">.</text><text transform="matrix(0.2586,-0.1068,0.1813,0.0674,865.49,1589.16)" font-size="100">2</text></g>
<g fill="#2a2a2a" stroke="#2a2a2a" stroke-width="2" stroke-linejoin="round"><text transform="matrix(0.2618,-0.1153,0.1925,0.0727,930.42,1630.87)" font-size="100">1</text><text transform="matrix(0.2588,-0.1139,0.1923,0.0719,944.90,1624.50)" font-size="100">.</text><text transform="matrix(0.2573,-0.1133,0.1922,0.0714,952.06,1621.34)" font-size="100">6</text></g>
<g fill="#2a2a2a" stroke="#2a2a2a" stroke-width="2" stroke-linejoin="round"><text transform="matrix(0.2600,-0.1226,0.2046,0.0772,1022.45,1665.62)" font-size="100">2</text><text transform="matrix(0.2569,-0.1211,0.2043,0.0763,1036.82,1658.84)" font-size="100">.</text><text transform="matrix(0.2553,-0.1204,0.2042,0.0759,1043.94,1655.49)" font-size="100">0</text></g>
<g fill="#2a2a2a" stroke="#2a2a2a" stroke-width="2" stroke-linejoin="round"><text transform="matrix(0.2574,-0.1306,0.2178,0.0822,1120.35,1702.58)" font-size="100">2</text><text transform="matrix(0.2542,-0.1290,0.2175,0.0813,1134.57,1695.37)" font-size="100">.</text><text transform="matrix(0.2526,-0.1282,0.2173,0.0808,1141.62,1691.80)" font-size="100">4</text></g>
<g fill="#303030"><text transform="matrix(0.1582,0.0580,-0.2122,0.1138,1232.57,1709.08)" font-size="100" font-weight="bold">0</text></g>
<g fill="#303030"><text transform="matrix(0.1557,0.0531,-0.1942,0.1041,1327.88,1657.98)" font-size="100" font-weight="bold">1</text></g>
<g fill="#303030"><text transform="matrix(0.1531,0.0488,-0.1784,0.0957,1415.28,1611.11)" font-size="100" font-weight="bold">2</text></g>
<g fill="#303030"><text transform="matrix(0.1504,0.0451,-0.1645,0.0882,1495.72,1567.99)" font-size="100" font-weight="bold">3</text></g>
<g fill="#303030"><text transform="matrix(0.1477,0.0417,-0.1521,0.0816,1569.99,1528.16)" font-size="100" font-weight="bold">4</text></g>
<g fill="#000" stroke="#000" stroke-width="3.5" stroke-linejoin="round"><text transform="matrix(0.3271,0.1282,-0.2927,0.1131,703.30,1584.08)" font-size="100">R</text><text transform="matrix(0.3328,0.1304,-0.2926,0.1151,727.13,1593.42)" font-size="100">a</text><text transform="matrix(0.3373,0.1321,-0.2926,0.1167,745.76,1600.72)" font-size="100">t</text><text transform="matrix(0.3396,0.1330,-0.2925,0.1175,755.16,1604.40)" font-size="100">i</text><text transform="matrix(0.3414,0.1337,-0.2925,0.1181,762.73,1607.37)" font-size="100">o</text><text transform="matrix(0.3066,0.1201,-0.2572,0.1061,791.49,1618.64)" font-size="100" fill="#888" stroke="#888">(</text><text transform="matrix(0.3088,0.1210,-0.2571,0.1069,801.74,1622.65)" font-size="100" fill="#888" stroke="#888">φ</text><text transform="matrix(0.3132,0.1227,-0.2570,0.1084,821.91,1630.55)" font-size="100" fill="#888" stroke="#888">s</text><text transform="matrix(0.3167,0.1241,-0.2568,0.1096,837.66,1636.72)" font-size="100" fill="#888" stroke="#888">)</text><text transform="matrix(0.3650,0.1430,-0.2916,0.1264,858.35,1644.82)" font-size="100">o</text><text transform="matrix(0.3702,0.1450,-0.2913,0.1282,878.79,1652.83)" font-size="100">f</text><text transform="matrix(0.3754,0.1471,-0.2910,0.1300,899.51,1660.95)" font-size="100">A</text><text transform="matrix(0.3819,0.1496,-0.2906,0.1323,924.77,1670.84)" font-size="100">l</text><text transform="matrix(0.3869,0.1515,-0.2902,0.1340,943.98,1678.37)" font-size="100">a</text><text transform="matrix(0.3925,0.1537,-0.2898,0.1360,965.66,1686.86)" font-size="100">n</text><text transform="matrix(0.3982,0.1560,-0.2893,0.1380,987.64,1695.47)" font-size="100">d</text><text transform="matrix(0.4071,0.1595,-0.2885,0.1411,1021.22,1708.63)" font-size="100">M</text><text transform="matrix(0.4162,0.1630,-0.2875,0.1443,1055.51,1722.06)" font-size="100">o</text><text transform="matrix(0.4225,0.1655,-0.2869,0.1465,1078.83,1731.20)" font-size="100">O</text><text transform="matrix(0.2592,0.1022,-0.1728,0.0904,1103.44,1748.71)" font-size="100">3</text></g>
<g fill="#000" stroke="#000" stroke-width="3.5" stroke-linejoin="round"><text transform="matrix(0.3458,-0.1944,0.3391,0.1241,1296.93,1730.16)" font-size="100">R</text><text transform="matrix(0.3379,-0.1899,0.3377,0.1213,1321.61,1716.29)" font-size="100">a</text><text transform="matrix(0.3319,-0.1866,0.3365,0.1191,1340.24,1705.82)" font-size="100">t</text><text transform="matrix(0.3290,-0.1850,0.3360,0.1181,1349.42,1700.65)" font-size="100">i</text><text transform="matrix(0.3267,-0.1837,0.3355,0.1173,1356.70,1696.56)" font-size="100">o</text><text transform="matrix(0.2801,-0.1575,0.2937,0.1006,1383.60,1681.44)" font-size="100" fill="#888" stroke="#888">(</text><text transform="matrix(0.2776,-0.1561,0.2932,0.0997,1392.89,1676.22)" font-size="100" fill="#888" stroke="#888">φ</text><text transform="matrix(0.2728,-0.1533,0.2921,0.0980,1410.73,1666.19)" font-size="100" fill="#888" stroke="#888">d</text><text transform="matrix(0.2687,-0.1511,0.2912,0.0965,1425.78,1657.72)" font-size="100" fill="#888" stroke="#888">)</text><text transform="matrix(0.3001,-0.1687,0.3297,0.1078,1443.07,1648.01)" font-size="100">o</text><text transform="matrix(0.2952,-0.1659,0.3285,0.1061,1459.62,1638.70)" font-size="100">f</text><text transform="matrix(0.2903,-0.1632,0.3273,0.1043,1475.88,1629.56)" font-size="100">A</text><text transform="matrix(0.2847,-0.1600,0.3259,0.1023,1495.06,1618.78)" font-size="100">l</text><text transform="matrix(0.2805,-0.1577,0.3248,0.1009,1509.19,1610.83)" font-size="100">a</text><text transform="matrix(0.2760,-0.1552,0.3236,0.0993,1524.66,1602.13)" font-size="100">n</text><text transform="matrix(0.2716,-0.1527,0.3224,0.0977,1539.89,1593.57)" font-size="100">d</text><text transform="matrix(0.2653,-0.1491,0.3205,0.0954,1562.28,1580.99)" font-size="100">M</text><text transform="matrix(0.2591,-0.1457,0.3187,0.0932,1584.12,1568.71)" font-size="100">o</text><text transform="matrix(0.2551,-0.1434,0.3175,0.0918,1598.42,1560.67)" font-size="100">O</text><text transform="matrix(0.1494,-0.0847,0.1905,0.0542,1627.55,1552.34)" font-size="100">3</text></g>
</svg></body></html>
